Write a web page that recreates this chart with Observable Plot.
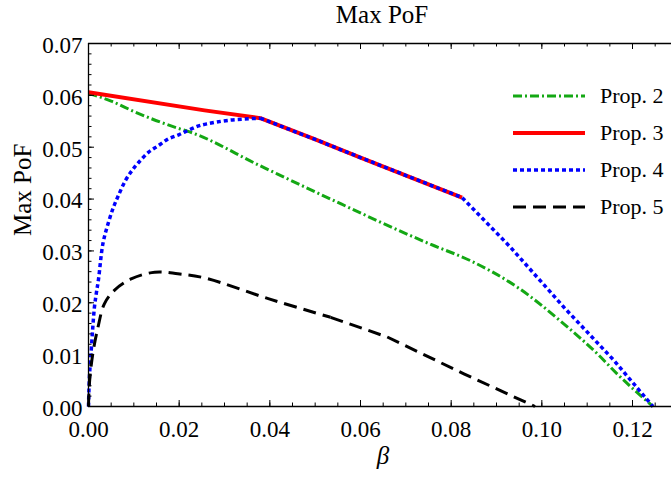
<!DOCTYPE html>
<html><head><meta charset="utf-8">
<script src="https://cdn.jsdelivr.net/npm/d3@7"></script>
<script src="https://cdn.jsdelivr.net/npm/@observablehq/plot@0.6"></script>
<style>
body{margin:0;background:#fff;}
#c{position:relative;width:671px;height:479px;font-family:"Liberation Serif",serif;}
#legend{position:absolute;left:513px;top:77px;}
.row{display:flex;align-items:center;height:37px;}
.row span{font-size:22px;margin-left:14px;color:#000;}
</style>
</head><body><div id="c"></div>
<script>
// ---- data ----
const prop2Beta = [0, 0.005, 0.010, 0.0203, 0.0218, 0.0379, 0.0534, 0.0754, 0.0843, 0.0946, 0.1049, 0.1122, 0.1166, 0.1245];
const prop2Val  = [0.0604, 0.0589, 0.0569, 0.0535, 0.0531, 0.0464, 0.0400, 0.0313, 0.0281, 0.0230, 0.0159, 0.0102, 0.0063, 0.0];

const prop3Beta = [0, 0.0256, 0.0379, 0.0500, 0.0600, 0.0824];
const prop3Val  = [0.0606, 0.0571, 0.0556, 0.0515, 0.0480, 0.0403];

const prop4Beta = [0, 0.0002, 0.0006, 0.00095, 0.0013, 0.0017, 0.0022, 0.0032, 0.0044, 0.0055, 0.0066, 0.0081, 0.0096, 0.0110, 0.0132, 0.0154, 0.0176, 0.0199, 0.0221, 0.0243, 0.0261, 0.0310, 0.0379, 0.0500, 0.0600, 0.0824, 0.0931, 0.1049, 0.1159, 0.1245];
const prop4Val  = [0, 0.0056, 0.0108, 0.0153, 0.0191, 0.0217, 0.0245, 0.0315, 0.0355, 0.0384, 0.0407, 0.0435, 0.0455, 0.0470, 0.0490, 0.0503, 0.0516, 0.0524, 0.0533, 0.0541, 0.0545, 0.0552, 0.0556, 0.0515, 0.0480, 0.0403, 0.0307, 0.0191, 0.0089, 0];

const prop5Beta = [0, 0.0002, 0.00095, 0.0021, 0.0035, 0.0057, 0.0094, 0.0146, 0.0197, 0.0256, 0.0400, 0.0534, 0.0659, 0.0828, 0.0985];
const prop5Val  = [0, 0.0044, 0.0102, 0.0153, 0.0198, 0.0224, 0.0246, 0.0259, 0.0256, 0.0248, 0.0207, 0.0172, 0.0134, 0.0063, 0];

const seriesNames  = ["Prop. 2", "Prop. 3", "Prop. 4", "Prop. 5"];
const seriesColors = ["#14a814", "#ff0000", "#0000ff", "#000000"];
const seriesDash   = ["9,3,2,3", null, "4,3", "13,7"];
const seriesWidth  = [3, 4, 3.5, 3];

const xTicks = [0, 0.02, 0.04, 0.06, 0.08, 0.10, 0.12];
const yTicks = [0, 0.01, 0.02, 0.03, 0.04, 0.05, 0.06, 0.07];
const xMinor = d3.range(0, 25.5).map(i => i * 0.005);
const yMinor = d3.range(0, 35.5).map(i => i * 0.002);

const titleText = "Max PoF";
const yLabelText = "Max PoF";
const xLabelText = "β";

// ---- chart ----
const rows = (b, v) => b.map((x, i) => ({x, y: v[i]}));
const series = [rows(prop2Beta, prop2Val), rows(prop3Beta, prop3Val), rows(prop4Beta, prop4Val), rows(prop5Beta, prop5Val)];

const W = 671, H = 479, mL = 88, mR = 0, mT = 43, mB = 73;
const pw = W - mL - mR, ph = H - mT - mB;

const lineMark = (i, data, curve) => Plot.line(data ?? series[i], {
  x: "x", y: "y", stroke: seriesColors[i], strokeWidth: seriesWidth[i], curve: curve ?? "linear",
  strokeDasharray: seriesDash[i] ?? undefined, strokeLinejoin: "round", strokeLinecap: "butt"
});

const chart = Plot.plot({
  width: W, height: H, marginLeft: mL, marginRight: mR, marginTop: mT, marginBottom: mB,
  x: {domain: [0, 0.1286]},
  y: {domain: [0, 0.07]},
  style: {fontFamily: "Liberation Serif, serif", fontSize: "23px", color: "#000", background: "#fff", overflow: "visible"},
  marks: [
    lineMark(0, null, "monotone-x"),
    lineMark(1),
    lineMark(2, series[2].filter(d => d.x <= 0.0379), "catmull-rom"),
    lineMark(2, series[2].filter(d => d.x >= 0.0379)),
    lineMark(3, series[3].filter(d => d.x <= 0.0534), "catmull-rom"),
    lineMark(3, series[3].filter(d => d.x >= 0.0534)),
    // frame
    Plot.ruleY([0.07], {stroke: "#000", strokeWidth: 1.3}),
    Plot.ruleY([0], {stroke: "#000", strokeWidth: 1.3}),
    Plot.ruleX([0], {stroke: "#000", strokeWidth: 1.3}),
    // inward ticks: bottom, top (x) and left (y)
    Plot.ruleX(xMinor, {x: d => d, insetTop: ph - 3.5, stroke: "#000"}),
    Plot.ruleX(xTicks, {x: d => d, insetTop: ph - 6, stroke: "#000"}),
    Plot.ruleX(xMinor, {x: d => d, insetBottom: ph - 3.5, stroke: "#000"}),
    Plot.ruleX(xTicks, {x: d => d, insetBottom: ph - 6, stroke: "#000"}),
    Plot.ruleY(yMinor, {y: d => d, insetRight: pw - 3.5, stroke: "#000"}),
    Plot.ruleY(yTicks, {y: d => d, insetRight: pw - 6, stroke: "#000"}),
    Plot.axisX({ticks: xTicks, tickFormat: d3.format(".2f"), tickSize: 0, tickPadding: 14, label: null, fontSize: 23}),
    Plot.axisY({ticks: yTicks, tickFormat: d3.format(".2f"), tickSize: 0, tickPadding: 6, label: null, fontSize: 23, dy: 2}),
    Plot.text([titleText], {text: d => d, frameAnchor: "top", lineAnchor: "bottom", dy: -21, dx: 2, fontSize: 25}),
    Plot.text([yLabelText], {text: d => d, frameAnchor: "left", rotate: -90, dx: -66, dy: 11, fontSize: 25}),
    Plot.text([xLabelText], {text: d => d, frameAnchor: "bottom", dy: 57, dx: 3, fontSize: 25, fontStyle: "italic"})
  ]
});

const c = document.getElementById("c");
c.appendChild(chart);

// legend
const lg = document.createElement("div");
lg.id = "legend";
seriesNames.forEach((name, i) => {
  const r = document.createElement("div");
  r.className = "row";
  const s = d3.create("svg").attr("width", 73).attr("height", 10);
  s.append("line").attr("x1", 0).attr("x2", 72).attr("y1", 5).attr("y2", 5)
    .attr("stroke", seriesColors[i]).attr("stroke-width", seriesWidth[i])
    .attr("stroke-dasharray", seriesDash[i]);
  r.appendChild(s.node());
  const t = document.createElement("span");
  t.textContent = name;
  r.appendChild(t);
  lg.appendChild(r);
});
c.appendChild(lg);
</script>
</body></html>
